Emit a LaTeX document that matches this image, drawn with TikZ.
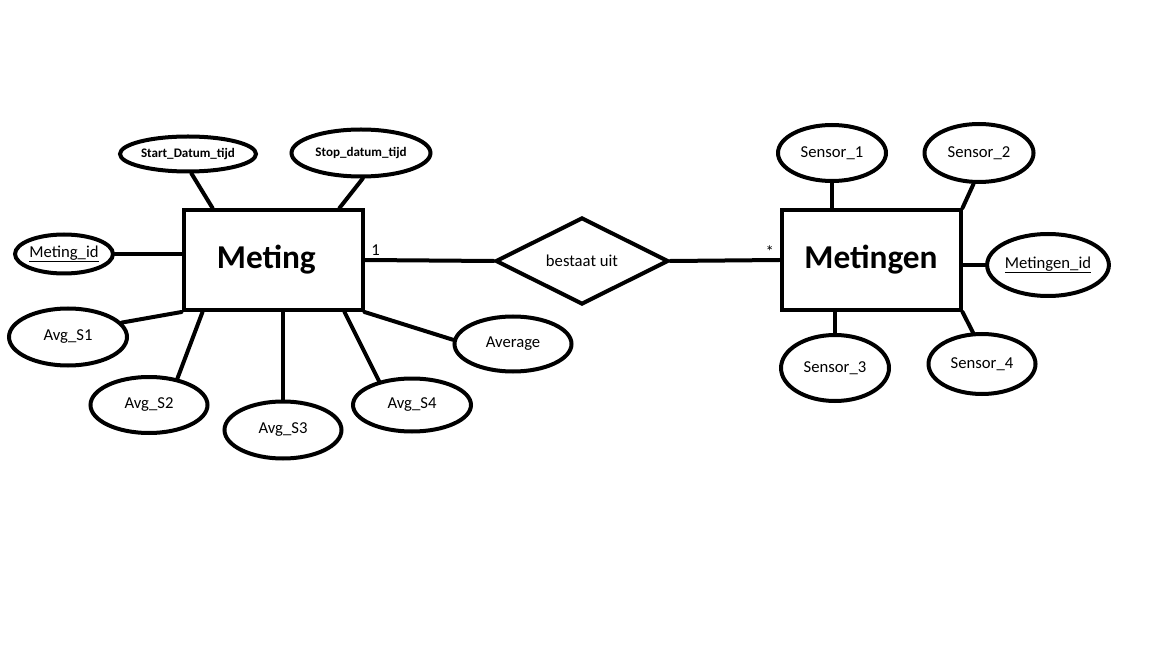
\documentclass[tikz,border=0pt]{standalone}
\usepackage{fontspec}
\setmainfont{Carlito}
\usepackage{tikz}
\usetikzlibrary{
	calc,
	positioning,
	shapes.geometric
}
\tikzstyle{every picture}+=[line cap=round]

\begin{document}
\begin{tikzpicture}[x=0.75pt, y=-0.75pt]

	\fill[white] (0,0) rectangle (1152,648);
	\useasboundingbox (0,0) rectangle (1152,648);

	\begin{scope}[
			entity/.style={draw, line width=3pt, inner sep=0, minimum width=179*0.75pt, minimum height=100*0.75pt, font=\fontsize{25}{29}\selectfont\bfseries},
			attr/.style 2 args={ellipse, draw, line width=3pt, inner sep=0, minimum width=#1*0.75pt, minimum height=#2*0.75pt, font=\fontsize{12.5}{15}\selectfont},
			rel/.style={diamond, draw, line width=3pt, inner sep=0, minimum width=173*0.75pt, minimum height=87*0.75pt, font=\fontsize{12.5}{15}\selectfont},
			link/.style={line width=3pt},
			card/.style={font=\fontsize{12.5}{15}\selectfont, inner sep=1pt}
			]

		% entiteiten en relatie
		\node[entity] (meting) at (273,260) {Meting\hspace*{10pt}};
		\node[entity] (metingen) at (871,260) {Metingen};
		\node[rel] (bestaat) at (582,261) {bestaat uit};

		% attributen van Meting
		\node[attr={136}{35}, font=\fontsize{9.8}{12}\selectfont\bfseries] (startdt) at (188,154) {Start\_Datum\_tijd};
		\node[attr={139}{47}, font=\fontsize{9.8}{12}\selectfont\bfseries] (stopdt) at (361,153) {Stop\_datum\_tijd};
		\node[attr={95}{39}] (metingid) at (64,254) {\underline{Meting\_id}};
		\node[attr={118}{57}] (avgsone) at (68,337) {Avg\_S1};
		\node[attr={117}{56}] (avgstwo) at (149,405) {Avg\_S2};
		\node[attr={117}{57}] (avgsthree) at (283,430) {Avg\_S3};
		\node[attr={118}{53}] (avgsfour) at (412,405) {Avg\_S4};
		\node[attr={117}{55}] (average) at (513,344) {Average};

		% attributen van Metingen
		\node[attr={108}{56}] (sensorone) at (832,153) {Sensor\_1};
		\node[attr={109}{58}] (sensortwo) at (979,153) {Sensor\_2};
		\node[attr={108}{62}] (metingenid) at (1048,265) {\underline{Metingen\_id}};
		\node[attr={108}{66}] (sensorthree) at (835,368) {Sensor\_3};
		\node[attr={107}{60}] (sensorfour) at (982,364) {Sensor\_4};

		\draw[link] (startdt.-80) -- ($(meting.north west)+(31,0)$);
		\draw[link] (stopdt.-86) -- ($(meting.north east)+(-25,0)$);
		\draw[link] (metingid.east) -- (metingid.east -| meting.west);
		\draw[link] (avgsone.15) -- (meting.south west);
		\draw[link] (avgstwo.43) -- ($(meting.south west)+(21,0)$);
		\draw[link] (avgsthree.north) -- (avgsthree.north |- meting.south);
		\draw[link] (avgsfour.144) -- ($(meting.south east)+(-20,0)$);
		\draw[link] (average.176) -- (meting.south east);

		\draw[link] (meting.east) -- (bestaat.west);
		\draw[link] (bestaat.east) -- (metingen.west);
		\node[card, above right=2pt and 4pt of meting.east] (een) {1};
		\node[card, above left=1pt and 3pt of metingen.west] (veel) {*};

		\draw[link] (sensorone.south) -- (sensorone.south |- metingen.north);
		\draw[link] (sensortwo.-100) -- (metingen.north east);
		\draw[link] (metingenid.west) -- (metingenid.west -| metingen.east);
		\draw[link] (sensorthree.north) -- (sensorthree.north |- metingen.south);
		\draw[link] (sensorfour.106) -- (metingen.south east);

	\end{scope}

\end{tikzpicture}
\end{document}
